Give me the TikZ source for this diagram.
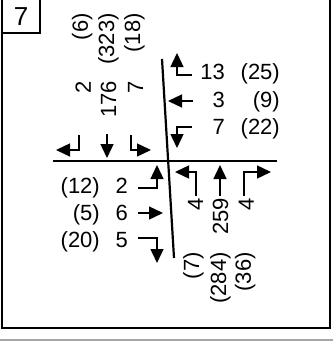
\documentclass[tikz,border=0pt]{standalone}
\usepackage{fontspec}
\setmainfont{Liberation Sans}
\usetikzlibrary{arrows.meta}

\begin{document}
\begin{tikzpicture}[
  x=1pt, y=-1pt,
  every node/.style={inner sep=0pt, font=\fontsize{22}{26}\selectfont},
  vol/.style={anchor=base east},
  vvol/.style={anchor=base east, rotate=90},
  move/.style={line width=1.4pt, -{Triangle[length=14pt,width=13pt]}},
  road/.style={line width=2.2pt}
]
\useasboundingbox (0,0) rectangle (333,341);
\clip (0,0) rectangle (333,341);

% frame and number
\draw[line width=2pt] (2,-3) rectangle (330,328);
\draw[line width=1.4pt] (2,-3) rectangle (40,33);
\node[font=\fontsize{26}{30}\selectfont] (fig) at (21,17) {7};
\draw[gray!70, line width=1.2pt] (0,340) -- (333,340);

% roads
\coordinate (wE) at (53,161);
\coordinate (eE) at (277,161);
\coordinate (nE) at (162,59);
\coordinate (sE) at (174,258);
\draw[road] (wE) -- (eE);
\draw[road] (nE) -- (sE);

% north approach
\node[vvol] (nL) at (91,81) {2};
\node[vvol] (nT) at (116,81) {176};
\node[vvol] (nR) at (143,81) {7};
\node[vvol] (nLp) at (88,13) {(6)};
\node[vvol] (nTp) at (114,13) {(323)};
\node[vvol] (nRp) at (140,13) {(18)};
\draw[move] (79,135) -- (79,150) -- (56,150);
\draw[move] (107,134) -- (107,158);
\draw[move] (131,135) -- (131,150) -- (151,150);

% east approach
\node[vol] (eR) at (225,79) {13};
\node[vol] (eT) at (225,107) {3};
\node[vol] (eL) at (225,134) {7};
\node[vol] (eRp) at (280,79) {(25)};
\node[vol] (eTp) at (280,107) {(9)};
\node[vol] (eLp) at (280,134) {(22)};
\draw[move] (192,75) -- (177,75) -- (177,53);
\draw[move] (193,101) -- (168,101);
\draw[move] (192,127) -- (177,127) -- (177,148);

% west approach
\node[vol] (wL) at (128,193) {2};
\node[vol] (wT) at (128,220) {6};
\node[vol] (wR) at (128,247) {5};
\node[vol] (wLp) at (100,193) {(12)};
\node[vol] (wTp) at (100,220) {(5)};
\node[vol] (wRp) at (100,247) {(20)};
\draw[move] (138,188) -- (157,188) -- (157,165);
\draw[move] (138,213) -- (163,213);
\draw[move] (138,238) -- (157,238) -- (157,263);

% south approach
\node[vvol] (sL) at (203,198) {4};
\node[vvol] (sT) at (228,198) {259};
\node[vvol] (sR) at (254,198) {4};
\node[vvol] (sLp) at (199,252) {(7)};
\node[vvol] (sTp) at (226,252) {(284)};
\node[vvol] (sRp) at (251,252) {(36)};
\draw[move] (196,196) -- (196,172) -- (175,172);
\draw[move] (220,196) -- (220,165);
\draw[move] (244,196) -- (244,172) -- (271,172);
\end{tikzpicture}
\end{document}
